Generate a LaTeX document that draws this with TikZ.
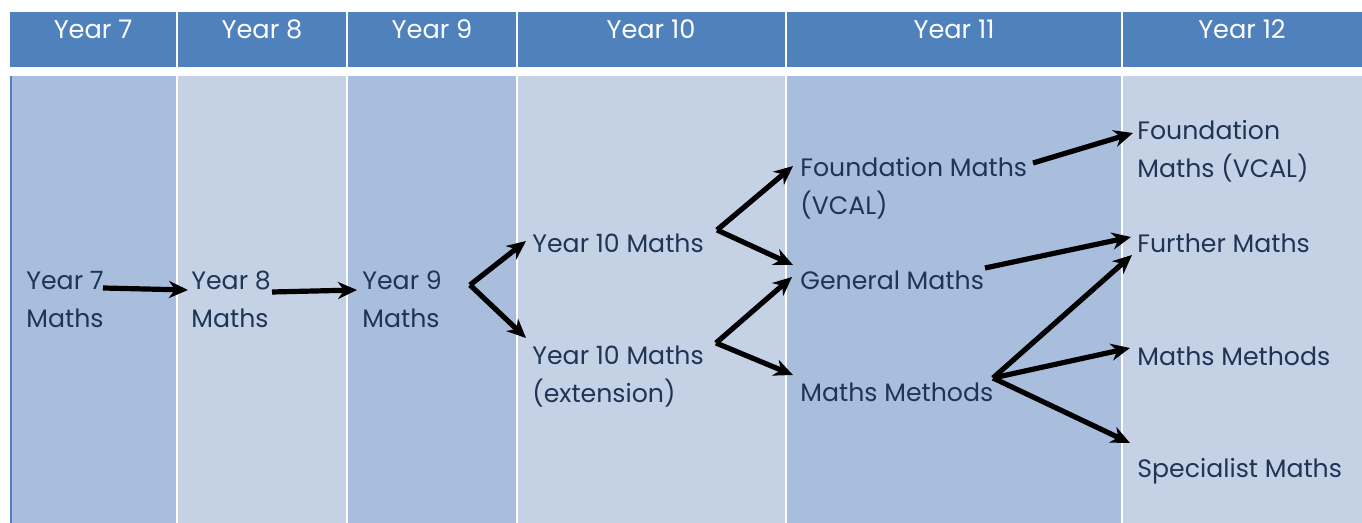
\documentclass[tikz,border=0pt]{standalone}
\usepackage{fontspec}
\setmainfont{Poppins}
\usetikzlibrary{arrows.meta}
\definecolor{hdr}{RGB}{79,129,189}
\definecolor{dark}{RGB}{169,190,221}
\definecolor{light}{RGB}{197,210,230}
\definecolor{txt}{RGB}{31,53,86}
\tikzset{
  lbl/.style={anchor=base west, inner sep=0pt, align=left, text=txt, font=\fontsize{12.6}{19}\selectfont},
  hlbl/.style={anchor=base, inner sep=0pt, text=white, font=\fontsize{12.8}{19}\selectfont},
  arr/.style={line width=2.6pt, -{Stealth[length=9.5pt,width=8.5pt,inset=3pt]}}
}
\begin{document}
\begin{tikzpicture}[x=0.5pt,y=-0.5pt]
\useasboundingbox (0,0) rectangle (1362,523);
% header
\fill[hdr] (10,12) rectangle (176,67);
\fill[hdr] (178,12) rectangle (346,67);
\fill[hdr] (348,12) rectangle (516,67);
\fill[hdr] (518,12) rectangle (785,67);
\fill[hdr] (787,12) rectangle (1121,67);
\fill[hdr] (1123,12) rectangle (1362,67);
% body
\fill[hdr] (10,76) rectangle (12,523);
\fill[dark] (12,76) rectangle (176,523);
\fill[light] (178,76) rectangle (346,523);
\fill[dark] (348,76) rectangle (516,523);
\fill[light] (518,76) rectangle (785,523);
\fill[dark] (787,76) rectangle (1121,523);
\fill[light] (1123,76) rectangle (1362,523);
% header labels
\node[hlbl] (h7) at (93,39) {Year 7};
\node[hlbl] (h8) at (262,39) {Year 8};
\node[hlbl] (h9) at (432,39) {Year 9};
\node[hlbl] (h10) at (651,39) {Year 10};
\node[hlbl] (h11) at (954,39) {Year 11};
\node[hlbl] (h12) at (1242,39) {Year 12};
% body labels (multi-line nodes placed by their last baseline)
\node[lbl] (y7) at (26,328) {Year 7\\Maths};
\node[lbl] (y8) at (191,328) {Year 8\\Maths};
\node[lbl] (y9) at (362,328) {Year 9\\Maths};
\node[lbl] (y10) at (532,253) {Year 10 Maths};
\node[lbl] (y10e) at (532,403) {Year 10 Maths\\(extension)};
\node[lbl] (f11) at (800,215) {Foundation Maths\\(VCAL)};
\node[lbl] (g11) at (800,290) {General Maths};
\node[lbl] (m11) at (800,402) {Maths Methods};
\node[lbl] (f12) at (1137,178) {Foundation\\Maths (VCAL)};
\node[lbl] (fu12) at (1137,253) {Further Maths};
\node[lbl] (m12) at (1137,366) {Maths Methods};
\node[lbl] (s12) at (1137,478) {Specialist Maths};
% connector points
\coordinate (a1s) at (103,288);
\coordinate (a1e) at (188,290);
\coordinate (a2s) at (272,292);
\coordinate (a2e) at (357,290);
\coordinate (v9) at (470,285);
\coordinate (v9a) at (526,241);
\coordinate (v9b) at (526,338);
\coordinate (v10a) at (717,230);
\coordinate (v10aa) at (793,166);
\coordinate (v10ab) at (793,265);
\coordinate (v10b) at (716,343);
\coordinate (v10ba) at (792,277);
\coordinate (v10bb) at (793,375);
\coordinate (f11s) at (1033,163);
\coordinate (f11e) at (1133,133);
\coordinate (g11s) at (985,268);
\coordinate (g11e) at (1131,237);
\coordinate (v11) at (993,378);
\coordinate (v11a) at (1132,255);
\coordinate (v11b) at (1130,348);
\coordinate (v11c) at (1130,443);
% connectors
\draw[arr] (a1s) -- (a1e);
\draw[arr] (a2s) -- (a2e);
\draw[arr] (v9) -- (v9a);
\draw[arr] (v9) -- (v9b);
\draw[arr] (v10a) -- (v10aa);
\draw[arr] (v10a) -- (v10ab);
\draw[arr] (v10b) -- (v10ba);
\draw[arr] (v10b) -- (v10bb);
\draw[arr] (f11s) -- (f11e);
\draw[arr] (g11s) -- (g11e);
\draw[arr] (v11) -- (v11a);
\draw[arr] (v11) -- (v11b);
\draw[arr] (v11) -- (v11c);
\end{tikzpicture}
\end{document}
